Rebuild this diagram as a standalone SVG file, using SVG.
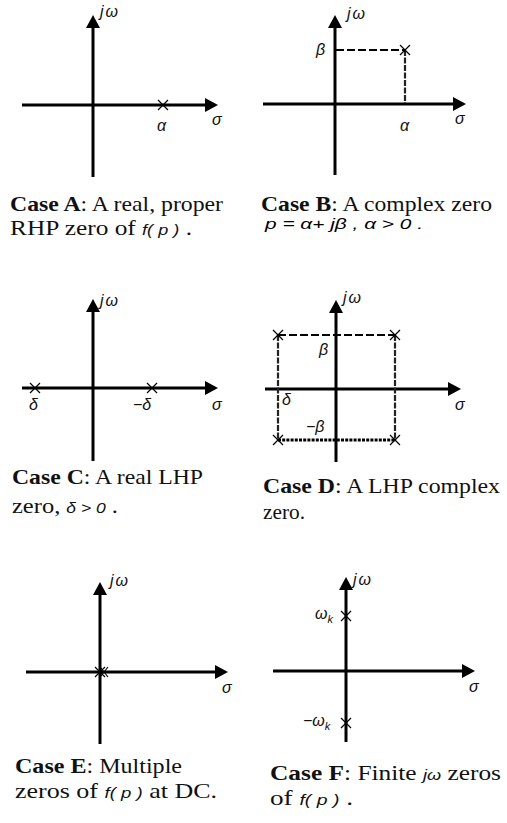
<svg xmlns="http://www.w3.org/2000/svg" width="507" height="823" viewBox="0 0 507 823">
<style>
.ax{stroke:#000;stroke-width:3;fill:none}
.z{stroke:#000;stroke-width:1.2;fill:none}
.d1{stroke:#000;stroke-width:2.2;fill:none;stroke-dasharray:8 3}
.d2{stroke:#222;stroke-width:2.2;fill:none;stroke-dasharray:6 1.5}
.d3{stroke:#000;stroke-width:2.8;fill:none;stroke-dasharray:3 1.2}
.cap{font-family:"Liberation Serif","Times New Roman",serif;font-size:21px;fill:#111}
.b{font-weight:bold}
.m{font-family:"Liberation Sans",Arial,sans-serif;font-style:italic;font-size:16px;fill:#111}
.mc{font-family:"Liberation Sans",Arial,sans-serif;font-style:italic;font-size:15px}
.sub{font-size:11px}
</style>
<defs>
<marker id="ah" markerUnits="userSpaceOnUse" markerWidth="14" markerHeight="16" viewBox="0 -8 14 16" refX="0" refY="0" orient="auto"><path d="M0,-7 L13,0 L0,7 z" fill="#000"/></marker>
</defs>
<rect width="507" height="823" fill="#fff"/>

<g id="caseA">
<g class="connectors">
<line class="ax" x1="93" y1="177" x2="93" y2="28" marker-end="url(#ah)"/>
<line class="ax" x1="22" y1="105" x2="205" y2="105" marker-end="url(#ah)"/>
</g>
<path class="z" d="M158,100 L168,110 M168,100 L158,110"/>
<text class="m" x="100" y="17" letter-spacing="2">jω</text>
<text class="m" x="157" y="131">α</text>
<text class="m" x="212" y="125">σ</text>
<text class="cap" x="10" y="211" textLength="213" lengthAdjust="spacingAndGlyphs"><tspan class="b">Case A</tspan>: A real, proper</text>
<text class="cap" x="10" y="235" textLength="182" lengthAdjust="spacingAndGlyphs">RHP zero of  <tspan class="mc">f( p )</tspan> .</text>
</g>

<g id="caseB">
<g class="connectors">
<line class="ax" x1="335" y1="175" x2="335" y2="28" marker-end="url(#ah)"/>
<line class="ax" x1="263" y1="104" x2="453" y2="104" marker-end="url(#ah)"/>
<path class="d1" d="M336,50 L405,50"/>
<path class="d2" d="M405,50 L405,103"/>
</g>
<path class="z" d="M400,45 L410,55 M410,45 L400,55"/>
<text class="m" x="347" y="19" letter-spacing="2">jω</text>
<text class="m" x="316" y="55">β</text>
<text class="m" x="400" y="131">α</text>
<text class="m" x="455" y="124">σ</text>
<text class="cap" x="261" y="211" textLength="231" lengthAdjust="spacingAndGlyphs"><tspan class="b">Case B</tspan>: A complex zero</text>
<text class="mc" x="265" y="229" textLength="158" lengthAdjust="spacingAndGlyphs">p = α+ jβ , α &gt; 0 .</text>
</g>

<g id="caseC">
<g class="connectors">
<line class="ax" x1="93" y1="461" x2="93" y2="312" marker-end="url(#ah)"/>
<line class="ax" x1="22" y1="388" x2="205" y2="388" marker-end="url(#ah)"/>
</g>
<path class="z" d="M30,383 L40,393 M40,383 L30,393 M147,383 L157,393 M157,383 L147,393"/>
<text class="m" x="100" y="306" letter-spacing="2">jω</text>
<text class="m" x="29" y="410">δ</text>
<text class="m" x="133" y="410">−δ</text>
<text class="m" x="212" y="410">σ</text>
<text class="cap" x="12" y="484" textLength="191" lengthAdjust="spacingAndGlyphs"><tspan class="b">Case C</tspan>: A real LHP</text>
<text class="cap" x="12" y="513" textLength="106" lengthAdjust="spacingAndGlyphs">zero,  <tspan class="mc">δ &gt; 0</tspan> .</text>
</g>

<g id="caseD">
<g class="connectors">
<line class="ax" x1="336" y1="462" x2="336" y2="313" marker-end="url(#ah)"/>
<line class="ax" x1="265" y1="389" x2="448" y2="389" marker-end="url(#ah)"/>
<path class="d1" d="M278,335 L395,335"/>
<path class="d2" d="M278,335 L278,440 M395,335 L395,440"/>
<path class="d3" d="M278,440 L395,440"/>
</g>
<path class="z" d="M273,330 L283,340 M283,330 L273,340 M390,330 L400,340 M400,330 L390,340 M273,435 L283,445 M283,435 L273,445 M390,435 L400,445 M400,435 L390,445"/>
<text class="m" x="343" y="303" letter-spacing="2">jω</text>
<text class="m" x="319" y="355">β</text>
<text class="m" x="282" y="405">δ</text>
<text class="m" x="306" y="432">−β</text>
<text class="m" x="455" y="410">σ</text>
<text class="cap" x="263" y="493" textLength="237" lengthAdjust="spacingAndGlyphs"><tspan class="b">Case D</tspan>: A LHP complex</text>
<text class="cap" x="263" y="519" textLength="42" lengthAdjust="spacingAndGlyphs">zero.</text>
</g>

<g id="caseE">
<g class="connectors">
<line class="ax" x1="100" y1="744" x2="100" y2="595" marker-end="url(#ah)"/>
<line class="ax" x1="26" y1="672" x2="215" y2="672" marker-end="url(#ah)"/>
</g>
<path class="z" d="M95,667 L105,677 M105,667 L95,677 M100,667 L108,677 M108,667 L100,677"/>
<text class="m" x="110" y="586" letter-spacing="2">jω</text>
<text class="m" x="222" y="693">σ</text>
<text class="cap" x="15" y="773" textLength="167" lengthAdjust="spacingAndGlyphs"><tspan class="b">Case E</tspan>: Multiple</text>
<text class="cap" x="15" y="798" textLength="202" lengthAdjust="spacingAndGlyphs">zeros of  <tspan class="mc">f( p )</tspan>  at DC.</text>
</g>

<g id="caseF">
<g class="connectors">
<line class="ax" x1="346" y1="742" x2="346" y2="590" marker-end="url(#ah)"/>
<line class="ax" x1="273" y1="671" x2="462" y2="671" marker-end="url(#ah)"/>
</g>
<path class="z" d="M341,611 L351,621 M351,611 L341,621 M341,718 L351,728 M351,718 L341,728"/>
<text class="m" x="353" y="585" letter-spacing="2">jω</text>
<text class="m" x="315" y="619">ω<tspan class="sub" dy="4">k</tspan></text>
<text class="m" x="303" y="726">−ω<tspan class="sub" dy="4">k</tspan></text>
<text class="m" x="469" y="692">σ</text>
<text class="cap" x="270" y="780" textLength="231" lengthAdjust="spacingAndGlyphs"><tspan class="b">Case F</tspan>: Finite  <tspan class="mc">jω</tspan>  zeros</text>
<text class="cap" x="270" y="805" textLength="83" lengthAdjust="spacingAndGlyphs">of  <tspan class="mc">f( p )</tspan> .</text>
</g>
</svg>
